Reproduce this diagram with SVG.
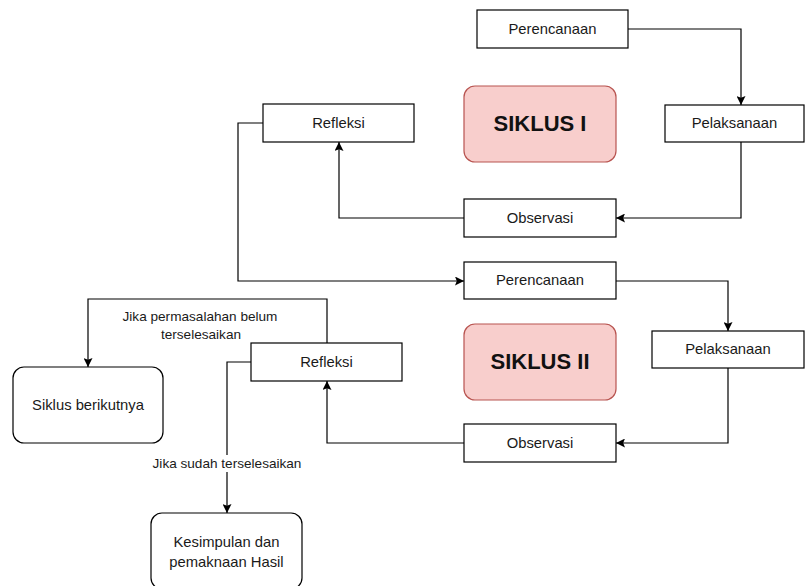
<svg xmlns="http://www.w3.org/2000/svg" width="805" height="586" viewBox="0 0 805 586">
<style>
.box{fill:#fff;stroke:#000;stroke-width:1.2}
.cyc{fill:#f8cecc;stroke:#b85450;stroke-width:1.2}
.t{font-family:"Liberation Sans",Arial,sans-serif;font-size:14.8px;fill:#1a1a1a;text-anchor:middle}
.lbl{font-family:"Liberation Sans",Arial,sans-serif;font-size:13.6px;fill:#1a1a1a;text-anchor:middle}
.big{font-family:"Liberation Sans",Arial,sans-serif;font-size:22px;font-weight:bold;fill:#111;text-anchor:middle}
.e{fill:none;stroke:#000;stroke-width:1.2}
</style>
<defs>
<marker id="ar" viewBox="0 0 10 10" refX="10" refY="5" markerWidth="9" markerHeight="9" markerUnits="userSpaceOnUse" orient="auto">
<path d="M0,0 L10,5 L0,10 L2,5 z" fill="#000"/>
</marker>
</defs>
<rect width="805" height="586" fill="#fff"/>
<g id="connectors">
<path class="e" d="M628,29 H741 V105" marker-end="url(#ar)"/>
<path class="e" d="M741,142 V218 H616" marker-end="url(#ar)"/>
<path class="e" d="M464,218 H339 V142" marker-end="url(#ar)"/>
<path class="e" d="M263,123 H238 V281 H464" marker-end="url(#ar)"/>
<path class="e" d="M616,281 H728 V331" marker-end="url(#ar)"/>
<path class="e" d="M728,368 V443 H616" marker-end="url(#ar)"/>
<path class="e" d="M464,443 H327 V381" marker-end="url(#ar)"/>
<path class="e" d="M327,343 V299 H88 V367" marker-end="url(#ar)"/>
<path class="e" d="M251,362 H227 V513" marker-end="url(#ar)"/>
<text class="lbl" x="200" y="321">Jika permasalahan belum</text>
<text class="lbl" x="201" y="339">terselesaikan</text>
<rect x="149" y="455" width="156" height="17" fill="#fff"/>
<text class="lbl" x="227" y="468">Jika sudah terselesaikan</text>
</g>
<g id="perencanaan1"><rect class="box" x="477" y="10" width="151" height="38"/><text class="t" x="552.5" y="34">Perencanaan</text></g>
<g id="siklus1"><rect class="cyc" x="464" y="86" width="152" height="76" rx="11"/><text class="big" x="540" y="131">SIKLUS I</text></g>
<g id="pelaksanaan1"><rect class="box" x="665" y="105" width="139" height="37"/><text class="t" x="734.5" y="128">Pelaksanaan</text></g>
<g id="refleksi1"><rect class="box" x="263" y="104" width="151" height="38"/><text class="t" x="338.5" y="128">Refleksi</text></g>
<g id="observasi1"><rect class="box" x="464" y="199" width="152" height="38"/><text class="t" x="540" y="223">Observasi</text></g>
<g id="perencanaan2"><rect class="box" x="464" y="262" width="152" height="37"/><text class="t" x="540" y="285">Perencanaan</text></g>
<g id="siklus2"><rect class="cyc" x="464" y="324" width="152" height="76" rx="11"/><text class="big" x="540" y="369">SIKLUS II</text></g>
<g id="pelaksanaan2"><rect class="box" x="652" y="331" width="152" height="37"/><text class="t" x="728" y="354">Pelaksanaan</text></g>
<g id="refleksi2"><rect class="box" x="251" y="343" width="151" height="38"/><text class="t" x="326.5" y="367">Refleksi</text></g>
<g id="observasi2"><rect class="box" x="464" y="424" width="152" height="38"/><text class="t" x="540" y="448">Observasi</text></g>
<g id="siklus-berikutnya"><rect class="box" x="13" y="367" width="150" height="76" rx="11"/><text class="t" x="88" y="410">Siklus berikutnya</text></g>
<g id="kesimpulan"><rect class="box" x="151" y="513" width="151" height="76" rx="11"/><text class="t" x="226.5" y="547">Kesimpulan dan</text><text class="t" x="226.5" y="567">pemaknaan Hasil</text></g>
</svg>
